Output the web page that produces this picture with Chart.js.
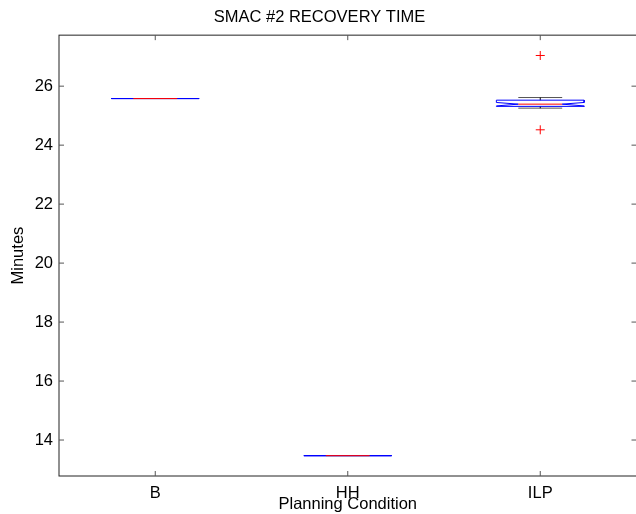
<!DOCTYPE html>
<html>
<head>
<meta charset="utf-8">
<script src="https://cdn.jsdelivr.net/npm/chart.js@4.4.1/dist/chart.umd.min.js"></script>
<style>
  html, body { margin: 0; padding: 0; background: #fff; overflow: hidden; }
  #wrap { width: 642px; height: 514px; }
</style>
</head>
<body>
<div id="wrap"><canvas id="boxChart" width="642" height="514"></canvas></div>
<script>
// Box plot values (Minutes)
const categories = ["B", "HH", "ILP"];
const medians   = [25.58, 13.47, 25.39];
const q1        = [25.58, 13.47, 25.315];
const q3        = [25.58, 13.47, 25.525];
const notchLo   = [25.58, 13.47, 25.33];
const notchHi   = [25.58, 13.47, 25.447];
const whiskerLo = [25.58, 13.47, 25.255];
const whiskerHi = [25.58, 13.47, 25.615];
const outlierCategory = [3, 3];
const outlierValues   = [27.04, 24.52];
const yTicks = [14, 16, 18, 20, 22, 24, 26];

const BOX_HALF = 0.228;
const NOTCH_HALF = 0.114;
const BLUE = "#0000ff";
const RED = "#ff0000";
const FONT = "'Liberation Sans', Arial, Helvetica, sans-serif";
const FONT_SIZE = 16.5;

function lineSet(points, color, extra) {
    return Object.assign({
        type: "line",
        data: points,
        borderColor: color,
        borderWidth: 1,
        pointRadius: 0,
        tension: 0,
        fill: false
    }, extra || {});
}

/* -------------------- BUILD DATASETS -------------------- */
const datasets = [];

datasets.push({
    type: "scatter",
    data: outlierCategory.map((c, i) => ({ x: c, y: outlierValues[i] })),
    pointStyle: "cross",
    pointRadius: 4.5,
    borderColor: RED,
    borderWidth: 1,
    order: 0
});

categories.forEach((cat, i) => {
    const c = i + 1;
    const L = c - BOX_HALF, R = c + BOX_HALF;
    const nL = c - NOTCH_HALF, nR = c + NOTCH_HALF;

    // median
    datasets.push(lineSet([{ x: nL, y: medians[i] }, { x: nR, y: medians[i] }], RED, { order: 1 }));

    // notched box outline
    const outline = [
        { x: L, y: q1[i] }, { x: L, y: notchLo[i] }, { x: nL, y: medians[i] },
        { x: L, y: notchHi[i] }, { x: L, y: q3[i] }, { x: R, y: q3[i] },
        { x: R, y: notchHi[i] }, { x: nR, y: medians[i] }, { x: R, y: notchLo[i] },
        { x: R, y: q1[i] }, { x: L, y: q1[i] }
    ];
    datasets.push(lineSet(outline, BLUE, { order: 2 }));

    // whiskers and caps
    datasets.push(lineSet([{ x: c, y: q3[i] }, { x: c, y: whiskerHi[i] }], "#000", { borderDash: [3, 3], order: 3 }));
    datasets.push(lineSet([{ x: c, y: q1[i] }, { x: c, y: whiskerLo[i] }], "#000", { borderDash: [3, 3], order: 3 }));
    datasets.push(lineSet([{ x: nL, y: whiskerHi[i] }, { x: nR, y: whiskerHi[i] }], "#555", { order: 3 }));
    datasets.push(lineSet([{ x: nL, y: whiskerLo[i] }, { x: nR, y: whiskerLo[i] }], "#555", { order: 3 }));
});

/* -------------------- FRAME & INWARD TICKS -------------------- */
const framePlugin = {
    id: "frame",
    afterDraw(chart) {
        const { ctx, chartArea: a, scales } = chart;
        const len = 5;
        ctx.save();
        ctx.strokeStyle = "#222";
        ctx.lineWidth = 1;
        ctx.strokeRect(a.left, a.top, a.right - a.left, a.bottom - a.top);
        ctx.strokeStyle = "#555";
        ctx.beginPath();
        scales.x.ticks.forEach(t => {
            const px = scales.x.getPixelForValue(t.value);
            ctx.moveTo(px, a.bottom); ctx.lineTo(px, a.bottom - len);
            ctx.moveTo(px, a.top); ctx.lineTo(px, a.top + len);
        });
        scales.y.ticks.forEach(t => {
            const py = scales.y.getPixelForValue(t.value);
            ctx.moveTo(a.left, py); ctx.lineTo(a.left + len, py);
            ctx.moveTo(a.right, py); ctx.lineTo(a.right - len, py);
        });
        ctx.stroke();
        ctx.restore();
    }
};

new Chart(document.getElementById("boxChart"), {
    type: "line",
    data: { datasets },
    options: {
        responsive: false,
        animation: false,
        layout: { padding: { left: 0, right: 3, top: 0, bottom: 0 } },
        plugins: {
            legend: { display: false },
            tooltip: { enabled: false },
            title: {
                display: true,
                text: "SMAC #2 RECOVERY TIME",
                color: "#000",
                font: { family: FONT, size: FONT_SIZE, weight: "normal", lineHeight: 1.1 },
                padding: { top: 8, bottom: 9 }
            }
        },
        scales: {
            x: {
                type: "linear",
                min: 0.5,
                max: 3.5,
                afterBuildTicks: s => { s.ticks = categories.map((c, i) => ({ value: i + 1 })); },
                afterFit: s => { s.height = 38; },
                grid: { display: false, drawTicks: false },
                border: { display: false },
                ticks: {
                    color: "#000",
                    padding: 8,
                    maxRotation: 0,
                    font: { family: FONT, size: FONT_SIZE, lineHeight: 1.1 },
                    callback: v => categories[v - 1]
                },
                title: {
                    display: true,
                    text: "Planning Condition",
                    color: "#000",
                    font: { family: FONT, size: FONT_SIZE, lineHeight: 1.1 },
                    padding: { top: 0, bottom: 0 }
                }
            },
            y: {
                type: "linear",
                min: 12.78,
                max: 27.73,
                afterBuildTicks: s => { s.ticks = yTicks.map(v => ({ value: v })); },
                afterFit: s => { s.width = 59; },
                grid: { display: false, drawTicks: false },
                border: { display: false },
                ticks: {
                    color: "#000",
                    padding: 6,
                    font: { family: FONT, size: FONT_SIZE }
                },
                title: {
                    display: true,
                    text: "Minutes",
                    color: "#000",
                    font: { family: FONT, size: FONT_SIZE, lineHeight: 1.1 },
                    padding: { top: 9, bottom: 0 }
                }
            }
        }
    },
    plugins: [framePlugin]
});
</script>
</body>
</html>
